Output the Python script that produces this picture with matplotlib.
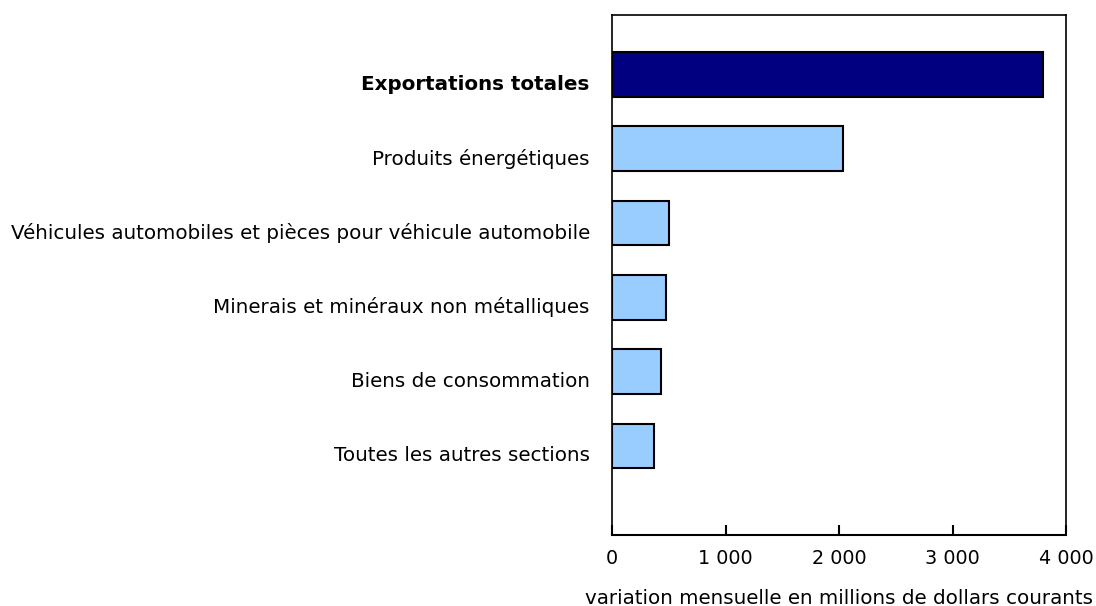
import matplotlib
matplotlib.use('Agg')
import matplotlib.pyplot as plt
import matplotlib.transforms as mtransforms
from matplotlib.ticker import FuncFormatter

# data (monthly change, millions of current dollars)
CATEGORIES = [
    'Exportations totales',
    'Produits énergétiques',
    'Véhicules automobiles et pièces pour véhicule automobile',
    'Minerais et minéraux non métalliques',
    'Biens de consommation',
    'Toutes les autres sections',
]
VALUES = [3794, 2039, 498, 472, 428, 372]
X_TICKS = [0, 1000, 2000, 3000, 4000]

DARK = '#000080'
LIGHT = '#99CCFF'

plt.rcParams['font.family'] = ['DejaVu Sans']

fig = plt.figure(figsize=(10.96, 6.06), dpi=100)
ax = fig.add_axes([612 / 1096, 1 - 535 / 606, 454 / 1096, 520 / 606])

pos = list(range(len(CATEGORIES)))
colors = [DARK] + [LIGHT] * (len(CATEGORIES) - 1)
ax.barh(pos, VALUES, height=0.6, color=colors, edgecolor='black', linewidth=1.5, zorder=3)

ax.set_ylim(6.2, -0.8)
ax.set_xlim(0, 4000)
ax.set_yticks(pos)
ax.set_yticklabels(CATEGORIES, fontsize=14.3)
ax.tick_params(axis='y', length=0, pad=16)
# labels sit a little below the bar centres in the original
shift = mtransforms.ScaledTranslation(0, -8 / 100, fig.dpi_scale_trans)
for lab in ax.get_yticklabels():
    lab.set_transform(lab.get_transform() + shift)
ax.get_yticklabels()[0].set_fontweight('bold')

ax.set_xticks(X_TICKS)
ax.xaxis.set_major_formatter(FuncFormatter(lambda v, p: f'{int(v):,}'.replace(',', ' ')))
ax.tick_params(axis='x', direction='in', length=7, width=1.5, labelsize=13.8, pad=10)

for s in ax.spines.values():
    s.set_linewidth(1.2)
ax.spines['bottom'].set_linewidth(1.5)

ax.set_xlabel('variation mensuelle en millions de dollars courants', fontsize=14.3, labelpad=15)

fig.savefig('out.png', dpi=100)
